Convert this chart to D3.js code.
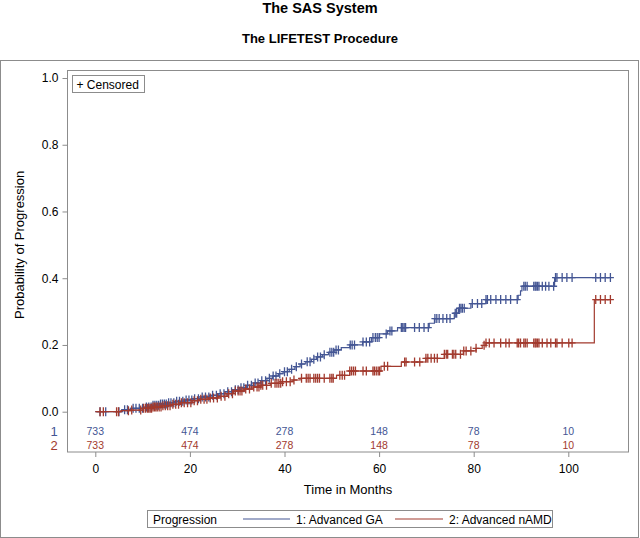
<!DOCTYPE html>
<html>
<head>
<meta charset="utf-8">
<script src="https://cdn.jsdelivr.net/npm/d3@7"></script>
<style>
  body { margin: 0; background: #fff; }
  svg { display: block; font-family: "Liberation Sans", Arial, sans-serif; }
</style>
</head>
<body>
<svg id="chart" width="640" height="538"></svg>
<script>
/* Data */
const groupNames = ['1: Advanced GA', '2: Advanced nAMD'];
const xTicks = [0, 20, 40, 60, 80, 100];
const yTicks = [0, 0.2, 0.4, 0.6, 0.8, 1.0];
const atRiskGA = [733, 474, 278, 148, 78, 10];
const atRiskNAMD = [733, 474, 278, 148, 78, 10];

// [time, cumulative probability] after each step
const stepsGA = [
  [0, 0], [5.8, 0.006], [7.5, 0.01], [10.5, 0.014], [12.2, 0.019], [13.8, 0.023],
  [15.5, 0.027], [17.2, 0.031], [19, 0.035], [20.8, 0.039], [22.5, 0.044], [24.2, 0.049],
  [26, 0.054], [27.6, 0.06], [29.2, 0.066], [30.5, 0.072], [32, 0.079], [33.5, 0.086],
  [35, 0.093], [36.3, 0.1], [37.5, 0.107], [38.7, 0.114], [39.7, 0.12], [41, 0.127],
  [42.2, 0.135], [43.3, 0.143], [44.5, 0.15], [45.7, 0.157], [46.8, 0.164], [48, 0.171],
  [49.3, 0.178], [50.5, 0.185], [52, 0.192], [53.8, 0.2], [56.5, 0.209], [58.4, 0.222],
  [60.1, 0.233], [61.8, 0.242], [63.9, 0.252], [70.6, 0.265], [71.7, 0.279], [75.9, 0.295],
  [76.8, 0.31], [79.4, 0.324], [82.6, 0.336], [89.4, 0.349], [89.9, 0.362], [90.2, 0.376],
  [97.1, 0.402]
];
const stepsNAMD = [
  [0, 0], [5.4, 0.003], [7.5, 0.005], [10.2, 0.01], [12, 0.014], [14, 0.018],
  [16.2, 0.022], [18, 0.027], [20.5, 0.033], [22, 0.037], [24, 0.041], [26, 0.046],
  [27.8, 0.054], [29.2, 0.062], [31.5, 0.068], [33.4, 0.074], [35, 0.079], [37, 0.085],
  [39.5, 0.09], [41.8, 0.095], [43.3, 0.1], [51, 0.109], [53.8, 0.122], [60.4, 0.136],
  [64.7, 0.149], [69.9, 0.16], [73.8, 0.172], [77.8, 0.182], [80.5, 0.19], [81.8, 0.199],
  [82.6, 0.206], [105.5, 0.336]
];

// censoring times
const censorGA = [
  1.0, 2.2, 5.0, 6.2, 6.8, 8.0, 8.6, 9.3, 10.0, 10.8, 11.3, 11.8, 12.2, 12.6, 13.0, 13.4,
  13.8, 14.2, 14.6, 15.0, 15.5, 16.0, 16.6, 17.2, 17.8, 18.5, 19.2, 19.8, 20.4, 21.0, 21.8,
  22.6, 23.3, 24.0, 24.8, 25.6, 26.4, 27.2, 28.0, 28.8, 29.6, 30.2, 30.8, 31.4, 32.2, 33.0,
  33.8, 34.4, 35.2, 36.0, 36.8, 37.6, 38.2, 39.0, 40.0, 40.6, 41.5, 42.5, 43.6, 44.8, 45.4,
  46.2, 47.0, 47.6, 48.4, 49.6, 50.0, 50.4, 50.9, 51.4, 53.9, 54.3, 54.8, 56.6, 57.3, 58.0,
  58.7, 59.2, 59.6, 60.0, 61.5, 62.3, 62.7, 64.7, 65.0, 65.3, 65.6, 67.5, 68.5, 69.5, 70.4,
  71.8, 72.2, 72.7, 73.5, 74.3, 75.0, 76.1, 76.4, 77.0, 77.3, 77.6, 78.0, 79.7, 80.8, 81.7,
  82.6, 82.9, 83.6, 84.7, 85.7, 86.8, 87.8, 89.2, 90.6, 90.9, 91.3, 92.7, 93.0, 93.2, 93.5,
  93.8, 94.5, 95.2, 95.9, 96.9, 97.3, 97.6, 98.7, 99.7, 100.8, 105.8, 106.8, 107.8, 108.9
];
const censorNAMD = [
  1.0, 1.7, 4.5, 4.9, 7.0, 7.7, 9.6, 10.2, 10.6, 11.0, 11.3, 11.6, 11.9, 12.2, 12.5, 12.8,
  13.1, 13.5, 13.9, 14.3, 14.8, 15.3, 15.8, 16.4, 17.0, 17.6, 18.2, 18.8, 19.5, 20.2, 20.9,
  21.6, 22.3, 23.0, 23.6, 24.3, 25.0, 25.8, 26.6, 27.4, 28.2, 29.0, 29.6, 30.2, 30.6, 31.0,
  31.8, 32.6, 33.5, 34.2, 34.6, 35.0, 35.4, 36.2, 37.2, 38.0, 38.4, 38.8, 39.2, 39.6, 40.4,
  41.2, 42.0, 43.6, 44.6, 45.0, 45.4, 46.2, 46.6, 47.0, 47.4, 48.4, 49.6, 50.0, 50.3, 51.7,
  52.2, 52.7, 53.8, 54.2, 54.6, 55.0, 56.6, 57.3, 58.7, 59.0, 59.4, 59.8, 60.1, 61.1, 61.8,
  65.4, 65.7, 67.5, 68.6, 69.9, 70.3, 71.0, 71.7, 72.3, 73.8, 74.2, 74.5, 75.5, 75.8, 76.2,
  77.2, 77.9, 78.4, 79.4, 80.5, 82.2, 82.6, 83.3, 84.3, 85.7, 86.8, 87.5, 89.2, 89.5, 89.9,
  90.6, 90.9, 91.3, 92.7, 93.0, 93.2, 93.5, 93.8, 94.5, 95.5, 96.3, 97.3, 97.6, 98.7, 100.1,
  100.8, 105.8, 106.8, 107.8, 108.9
];

/* Style */
const BLUE = '#445694';
const RED = '#A23A2E';
const FRAME = '#8c8c8c';
const FONT = '"Liberation Sans", Arial, sans-serif';

const plot = { left: 67.5, right: 628.5, top: 70.5, bottom: 452 };

const svg = d3.select('#chart');

// outer frame
svg.append('rect')
  .attr('x', 0.5).attr('y', 60.5).attr('width', 638).attr('height', 477)
  .attr('fill', 'none').attr('stroke', FRAME);

// titles
svg.append('text')
  .attr('x', 320).attr('y', 12.5).attr('text-anchor', 'middle')
  .style('font-size', '14.5px').style('font-weight', 'bold')
  .text('The SAS System');
svg.append('text')
  .attr('x', 320).attr('y', 42.5).attr('text-anchor', 'middle')
  .style('font-size', '13px').style('font-weight', 'bold')
  .text('The LIFETEST Procedure');

const x = d3.scaleLinear().domain([0, 100]).range([95.3, 568.3]);
const y = d3.scaleLinear().domain([0, 1]).range([411.7, 78]);

// plot wall
svg.append('rect')
  .attr('x', plot.left).attr('y', plot.top)
  .attr('width', plot.right - plot.left).attr('height', plot.bottom - plot.top)
  .attr('fill', '#fff').attr('stroke', FRAME);

// axes
const yAxis = svg.append('g')
  .attr('transform', `translate(${plot.left},0)`)
  .call(d3.axisLeft(y).tickValues(yTicks).tickFormat(d3.format('.1f')).tickSize(5).tickPadding(4));
const xAxis = svg.append('g')
  .attr('transform', `translate(0,${plot.bottom})`)
  .call(d3.axisBottom(x).tickValues(xTicks).tickSize(5).tickPadding(7));

[yAxis, xAxis].forEach((g) => {
  g.select('.domain').remove();
  g.selectAll('line').attr('stroke', FRAME);
  g.selectAll('text')
    .style('font-family', FONT).style('font-size', '12px').attr('fill', '#000');
});

svg.append('text')
  .attr('transform', `translate(24,${(y(0) + y(1)) / 2}) rotate(-90)`)
  .attr('text-anchor', 'middle')
  .style('font-size', '13px')
  .text('Probability of Progression');

svg.append('text')
  .attr('x', (plot.left + plot.right) / 2).attr('y', 494)
  .attr('text-anchor', 'middle')
  .style('font-size', '13px')
  .text('Time in Months');

// curves + censor marks
const line = d3.line()
  .x((d) => x(d[0]))
  .y((d) => y(d[1]))
  .curve(d3.curveStepAfter);

const bisect = d3.bisector((d) => d[0]).right;

function drawGroup (steps, censor, color) {
  const lastT = d3.max(censor);
  const pts = steps.concat([[lastT, steps[steps.length - 1][1]]]);
  const g = svg.append('g');
  g.append('path')
    .attr('d', line(pts))
    .attr('fill', 'none')
    .attr('stroke', color)
    .attr('stroke-width', 1.2);
  g.selectAll('path.cens')
    .data(censor)
    .join('path')
    .attr('class', 'cens')
    .attr('transform', (t) => `translate(${x(t)},${y(steps[bisect(steps, t) - 1][1])})`)
    .attr('d', 'M-3.5,0H3.5M0,-4.5V4.5')
    .attr('stroke', color)
    .attr('stroke-width', 1.3)
    .attr('fill', 'none');
}

drawGroup(stepsGA, censorGA, BLUE);
drawGroup(stepsNAMD, censorNAMD, RED);

// censored legend
svg.append('rect')
  .attr('x', 72.5).attr('y', 75.5).attr('width', 72).attr('height', 17)
  .attr('fill', '#fff').attr('stroke', FRAME);
svg.append('text')
  .attr('x', 76.5).attr('y', 88.5)
  .style('font-size', '12px')
  .text('+ Censored');

// at-risk table
const rows = [
  { label: '1', values: atRiskGA, color: BLUE, y: 435 },
  { label: '2', values: atRiskNAMD, color: RED, y: 449 }
];
rows.forEach((r) => {
  svg.append('text')
    .attr('x', 54).attr('y', r.y + 0.5)
    .attr('text-anchor', 'middle')
    .attr('fill', r.color)
    .style('font-size', '13px')
    .text(r.label);
  svg.selectAll(null)
    .data(r.values)
    .join('text')
    .attr('x', (d, i) => x(xTicks[i]))
    .attr('y', r.y)
    .attr('text-anchor', 'middle')
    .attr('fill', r.color)
    .style('font-size', '10.5px')
    .text((d) => d);
});

// bottom legend
const leg = svg.append('g');
leg.append('rect')
  .attr('x', 147.5).attr('y', 510.5).attr('width', 405).attr('height', 17)
  .attr('fill', '#fff').attr('stroke', FRAME);
leg.append('text')
  .attr('x', 153).attr('y', 523.5)
  .style('font-size', '12px')
  .text('Progression');
const legItems = [
  { name: groupNames[0], color: BLUE, x0: 243, x1: 290, tx: 296 },
  { name: groupNames[1], color: RED, x0: 395, x1: 443, tx: 449 }
];
legItems.forEach((it) => {
  leg.append('line')
    .attr('x1', it.x0).attr('x2', it.x1).attr('y1', 519).attr('y2', 519)
    .attr('stroke', it.color).attr('stroke-width', 1.2);
  leg.append('text')
    .attr('x', it.tx).attr('y', 523.5)
    .style('font-size', '12px')
    .text(it.name);
});
</script>
</body>
</html>
